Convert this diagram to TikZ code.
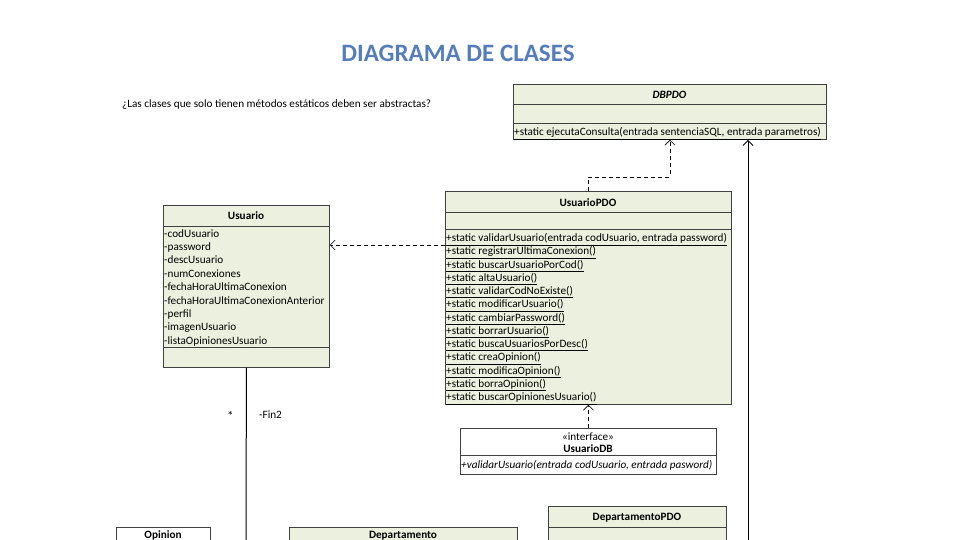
\documentclass[tikz,border=0pt]{standalone}
\usepackage{fontspec}
\setmainfont{Carlito}
\usepackage{xcolor}
\usetikzlibrary{arrows.meta}
\definecolor{classfill}{HTML}{EBF1DE}
\definecolor{titleblue}{RGB}{84,125,186}
\newcommand{\memberfont}{\fontsize{11.2}{13}\selectfont}
\tikzset{
  classbox/.style={draw=black!75, fill=classfill, line width=0.8pt, anchor=north west, inner sep=0pt},
  member/.style={anchor=base west, inner sep=0pt, font=\memberfont},
  header/.style={anchor=base, inner sep=0pt, font=\memberfont\bfseries},
  dep/.style={dash pattern=on 4pt off 3pt, line width=0.6pt},
  assoc/.style={line width=1pt}
}
\begin{document}
\begin{tikzpicture}[x=1pt,y=-1pt,>={Straight Barb[length=5pt,width=10pt]}]
  \useasboundingbox (0,0) rectangle (960,540);
  \clip (0,0) rectangle (960,540);
  % Title and note
  \node[font=\fontsize{25}{28}\selectfont\bfseries, text=titleblue] (title) at (458,53) {DIAGRAMA DE CLASES};
  \node[member] (note) at (122,108) {¿Las clases que solo tienen métodos estáticos deben ser abstractas?};
  % DBPDO
  \node[classbox, minimum width=313pt, minimum height=55pt] (dbpdo) at (513,84) {};
  \draw[black!75, line width=0.8pt] (513,104) -- (826,104) (513,123) -- (826,123);
  \node[header, font=\memberfont\bfseries\itshape] (dbpdoName) at (669.5,99) {DBPDO};
  \node[member] (dbpdoOp) at (514,135.5) {\underline{+static ejecutaConsulta(entrada sentenciaSQL, entrada parametros)}};
  % Usuario
  \node[classbox, minimum width=166pt, minimum height=162pt] (usuario) at (163,205) {};
  \draw[black!75, line width=0.8pt] (163,226) -- (329,226) (163,347) -- (329,347);
  \node[header] (usuarioName) at (246,219) {Usuario};
  \foreach \a [count=\i from 0] in {codUsuario, password, descUsuario, numConexiones,
      fechaHoraUltimaConexion, fechaHoraUltimaConexionAnterior, perfil, imagenUsuario,
      listaOpinionesUsuario}
    \node[member] (attr\i) at (164,237+13.4*\i) {-\a};
  % UsuarioPDO
  \node[classbox, minimum width=286pt, minimum height=213pt] (upd) at (445,191) {};
  \draw[black!75, line width=0.8pt] (445,212) -- (731,212) (445,229) -- (731,229);
  \node[header] (updName) at (588,206) {UsuarioPDO};
  \foreach \m [count=\i from 0] in {{validarUsuario(entrada codUsuario, entrada password)},
      registrarUltimaConexion(), buscarUsuarioPorCod(), altaUsuario(), validarCodNoExiste(),
      modificarUsuario(), cambiarPassword(), borrarUsuario(), buscaUsuariosPorDesc(),
      creaOpinion(), modificaOpinion(), borraOpinion(), buscarOpinionesUsuario()}
    \node[member] (op\i) at (446,241.5+13.25*\i) {\underline{+static \m}};
  % UsuarioDB interface
  \node[classbox, fill=white, minimum width=256pt, minimum height=46pt] (udb) at (460,428) {};
  \draw[black!75, line width=0.8pt] (460,455) -- (716,455);
  \node[header, font=\memberfont] (udbStereo) at (588,440) {«interface»};
  \node[header] (udbName) at (588,452) {UsuarioDB};
  \node[member, font=\memberfont\itshape] (udbOp) at (461,468) {+validarUsuario(entrada codUsuario, entrada pasword)};
  % Bottom classes
  \node[classbox, fill=white, minimum width=94pt, minimum height=30pt] (opinion) at (116,527) {};
  \node[header] (opinionName) at (163,538) {Opinion};
  \node[classbox, minimum width=228pt, minimum height=30pt] (depto) at (289,527) {};
  \node[header] (deptoName) at (403,538.5) {Departamento};
  \node[classbox, minimum width=178pt, minimum height=50pt] (dpdo) at (548,506) {};
  \draw[black!75, line width=0.8pt] (548,527) -- (726,527);
  \node[header] (dpdoName) at (637,520) {DepartamentoPDO};
  % Connectors
  \coordinate (usuarioEnd) at (246,550);
  \coordinate (dpdoEnd) at (748,550);
  \draw[assoc] (usuario.south) -- (usuarioEnd);
  \node[member, font=\fontsize{13}{14}\selectfont] (mult) at (227,420) {*};
  \node[member] (role) at (259,418) {-Fin2};
  \draw[assoc,->] (dpdoEnd) -- (dpdoEnd |- dbpdo.south);
  \draw[dep,->] (upd.north) -- (upd.north |- 0,177) -| (dbpdo.south);
  \draw[dep,->] (upd.west |- 0,245) -- (usuario.east |- 0,245);
  \draw[dep,->] (udb.north) -- (upd.south);
\end{tikzpicture}
\end{document}
